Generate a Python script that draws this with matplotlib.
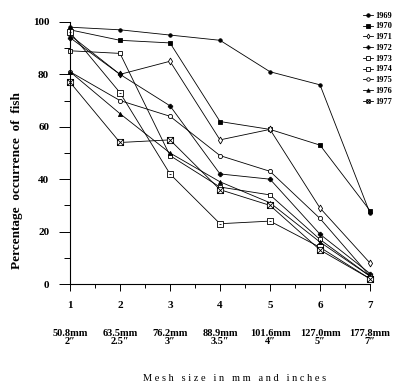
import matplotlib
matplotlib.use('Agg')
from matplotlib import pyplot as plt
from matplotlib.path import Path
import numpy as np

# Percentage occurrence of fish by mesh size, 1969-1977
mesh = [1, 2, 3, 4, 5, 6, 7]
mesh_labels = ['50.8mm\n2\u2033', '63.5mm\n2.5\u2033', '76.2mm\n3\u2033', '88.9mm\n3.5\u2033',
               '101.6mm\n4\u2033', '127.0mm\n5\u2033', '177.8mm\n7\u2033']
years = ['1969', '1970', '1971', '1972', '1973', '1974', '1975', '1976', '1977']

y1969 = [98, 97, 95, 93, 81, 76, 27]
y1970 = [97, 93, 92, 62, 59, 53, 28]
y1971 = [95, 80, 85, 55, 59, 29, 8]
y1972 = [94, 80, 68, 42, 40, 19, 4]
y1973 = [89, 88, 49, 37, 34, 17, 3]
y1974 = [96, 73, 42, 23, 24, 14, 2]
y1975 = [81, 70, 64, 49, 43, 25, 3]
y1976 = [81, 65, 50, 39, 31, 16, 3]
y1977 = [77, 54, 55, 36, 30, 13, 2]
series = [y1969, y1970, y1971, y1972, y1973, y1974, y1975, y1976, y1977]

# crossed square marker
xsq = Path([(-1, -1), (1, -1), (1, 1), (-1, 1), (-1, -1), (-1, -1), (1, 1), (-1, 1), (1, -1)],
           [Path.MOVETO, Path.LINETO, Path.LINETO, Path.LINETO, Path.CLOSEPOLY,
            Path.MOVETO, Path.LINETO, Path.MOVETO, Path.LINETO])
# dotted square marker
dsq = Path([(-1, -1), (1, -1), (1, 1), (-1, 1), (-1, -1), (-0.2, 0), (0.2, 0)],
           [Path.MOVETO, Path.LINETO, Path.LINETO, Path.LINETO, Path.CLOSEPOLY,
            Path.MOVETO, Path.LINETO])

styles = [('o', 'black', 2.5), ('s', 'black', 3.2), ('d', 'white', 3.5), ('P', 'black', 3.2),
          ('s', 'white', 3.5), (dsq, 'white', 4.5), ('o', 'white', 3), ('^', 'black', 3),
          (xsq, 'white', 4.5)]

serif = ['Liberation Serif', 'DejaVu Serif']
plt.rcParams['font.family'] = serif

fig = plt.figure(figsize=(4, 3.92), dpi=100)
ax = fig.add_axes([0.175, 0.2755, 0.75, 0.6685])

for yr, vals, (m, fc, ms) in zip(years, series, styles):
    ax.plot(mesh, vals, color='black', linewidth=0.6, marker=m, markersize=ms,
            markerfacecolor=fc, markeredgecolor='black', markeredgewidth=0.6,
            label=yr, clip_on=False)

ax.set_xlim(1, 7)
ax.set_ylim(0, 100)
ax.spines['top'].set_visible(False)
ax.spines['right'].set_visible(False)
ax.spines['left'].set_linewidth(0.8)
ax.spines['bottom'].set_linewidth(0.8)

ax.set_yticks([0, 20, 40, 60, 80, 100])
ax.set_yticks([10, 30, 50, 70, 90], minor=True)
ax.set_xticks(mesh)
ax.set_xticks([1.5, 2.5, 3.5, 4.5, 5.5, 6.5], minor=True)
ax.tick_params(axis='y', which='major', length=8, width=0.7, labelsize=8, pad=7)
ax.tick_params(axis='y', which='minor', length=4.3, width=0.7)
ax.tick_params(axis='x', which='major', length=5, width=0.7, labelsize=8, pad=7)
ax.tick_params(axis='x', which='minor', length=3, width=0.7)
for lab in ax.get_xticklabels() + ax.get_yticklabels():
    lab.set_fontweight('bold')

# mesh size labels under the tick numbers
for x, txt in zip(mesh, mesh_labels):
    ax.text(x, -0.17, txt, transform=ax.get_xaxis_transform(), ha='center', va='top',
            fontsize=7.5, fontweight='bold', linespacing=0.95)

fig.text(0.5875, 0.035, 'M e s h   s i z e   i n   m m   a n d   i n c h e s', ha='center',
         va='center', fontsize=7.5)
fig.text(0.042, 0.54, 'Percentage  occurrence  of  fish', rotation=90,
         ha='center', va='center', fontsize=9.5, fontweight='bold')

leg = fig.legend(loc='upper right', bbox_to_anchor=(0.995, 0.985), frameon=False,
                 prop={'size': 6, 'weight': 'bold', 'family': serif},
                 handlelength=1.2, handletextpad=0.3, labelspacing=0.33, borderpad=0.2)
for h in leg.legend_handles:
    h.set_markersize(2.5)

fig.savefig('out.png', dpi=100)
